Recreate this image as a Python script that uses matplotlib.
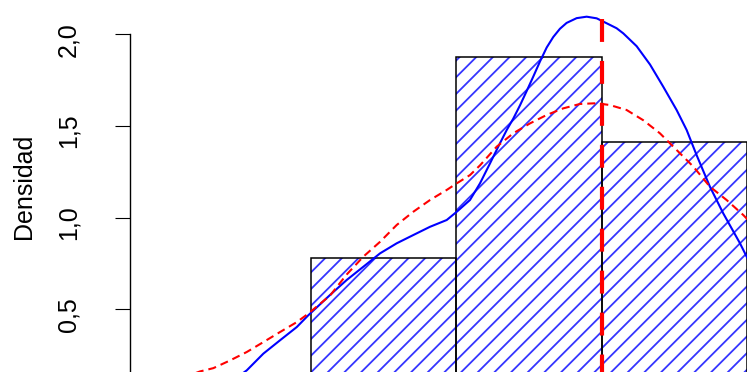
import numpy as np
import matplotlib.pyplot as plt
import matplotlib.transforms as mtransforms

plt.rcParams['font.family'] = ['Liberation Sans', 'DejaVu Sans']
plt.rcParams['lines.scale_dashes'] = False
plt.rcParams['hatch.linewidth'] = 1.3

# histogram bins (edges) and density heights
bin_left = [3.0, 4.0, 5.0]
bin_width = 1.0
densidad = [0.78, 1.875, 1.41]

# kernel density estimate (solid blue)
kde_x = [2.477, 2.558, 2.672, 2.787, 2.902, 2.981, 3.131, 3.246, 3.360, 3.475,
         3.590, 3.704, 3.819, 3.934, 4.003, 4.094, 4.163, 4.232, 4.300, 4.347,
         4.392, 4.438, 4.484, 4.530, 4.576, 4.622, 4.667, 4.713, 4.759, 4.828,
         4.897, 4.966, 5.035, 5.103, 5.149, 5.241, 5.333, 5.424, 5.516, 5.585,
         5.654, 5.745, 5.837, 5.952, 5.998, 6.090]
kde_y = [0.120, 0.167, 0.258, 0.331, 0.403, 0.467, 0.578, 0.660, 0.732, 0.805,
         0.860, 0.905, 0.950, 0.987, 1.032, 1.096, 1.187, 1.296, 1.405, 1.478,
         1.540, 1.612, 1.690, 1.770, 1.852, 1.928, 1.985, 2.030, 2.062, 2.088,
         2.096, 2.087, 2.060, 2.033, 2.005, 1.935, 1.835, 1.714, 1.587, 1.478,
         1.340, 1.169, 1.023, 0.860, 0.787, 0.640]

# fitted curve (dashed red)
fit_x = [2.099, 2.236, 2.328, 2.443, 2.558, 2.672, 2.787, 2.902, 2.981, 3.131,
         3.246, 3.360, 3.475, 3.590, 3.704, 3.819, 3.934, 4.003, 4.094, 4.163,
         4.278, 4.392, 4.507, 4.622, 4.736, 4.851, 4.966, 5.057, 5.172, 5.287,
         5.401, 5.516, 5.631, 5.745, 5.860, 5.975, 6.090]
fit_y = [0.120, 0.161, 0.179, 0.221, 0.267, 0.321, 0.376, 0.430, 0.476, 0.575,
         0.690, 0.787, 0.868, 0.960, 1.032, 1.096, 1.151, 1.187, 1.232, 1.285,
         1.387, 1.460, 1.514, 1.560, 1.596, 1.620, 1.624, 1.614, 1.587, 1.531,
         1.460, 1.369, 1.278, 1.169, 1.096, 1.014, 0.920]

media = 5.0
media_top = 2.083

fig = plt.figure(figsize=(7.47, 3.72), dpi=100)
ax = fig.add_axes([130 / 747, 0.0, 670 / 747, 1.0])

# hatching in blue, outline in black
ax.bar(bin_left, densidad, width=bin_width, align='edge', facecolor='none',
       edgecolor='#3535ff', linewidth=0, hatch='//')
ax.bar(bin_left, densidad, width=bin_width, align='edge', fill=False,
       edgecolor='black', linewidth=1.1)

ax.plot(kde_x, kde_y, color='#0000ff', linewidth=1.5)
ax.plot(fit_x, fit_y, color='#ff0000', linewidth=1.5, dashes=(5.8, 3.6))
ax.plot([media, media], [media_top, 0], color='#ff0000', linewidth=3.0,
        dashes=(16.5, 13.7))

ax.set_xlim(1.7546, 6.365)
ax.set_ylim(0.158, 2.187)

for s in ['top', 'right', 'bottom']:
    ax.spines[s].set_visible(False)
ax.spines['left'].set_bounds(0, 2.0)
ax.spines['left'].set_linewidth(1.0)
ax.set_xticks([])

yt = [0.5, 1.0, 1.5, 2.0]
ax.set_yticks(yt)
ax.set_yticklabels([f"{v:.1f}".replace('.', ',') for v in yt],
                   rotation=90, va='center')
ax.tick_params(axis='y', length=10.8, width=0.8, pad=25, labelsize=18)

# nudge the rotated labels slightly below their ticks
shift = mtransforms.ScaledTranslation(0, -5 / 100, fig.dpi_scale_trans)
for lab in ax.get_yticklabels():
    lab.set_transform(lab.get_transform() + shift)

fig.text(24 / 747, 0.5, 'Densidad', rotation=90, ha='center', va='center',
         fontsize=18)

fig.savefig('out.png', dpi=100)
